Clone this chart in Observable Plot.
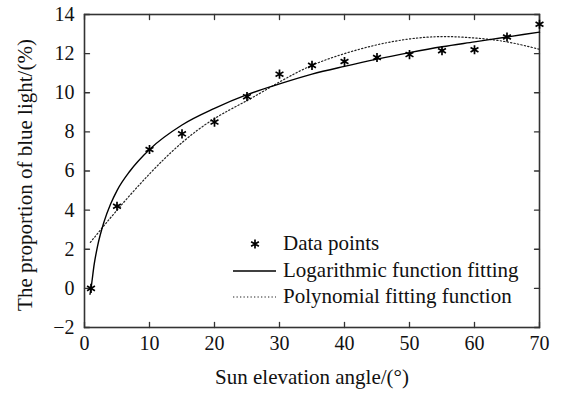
<!DOCTYPE html>
<html><head><meta charset="utf-8">
<script src="https://cdn.jsdelivr.net/npm/d3@7"></script>
<script src="https://cdn.jsdelivr.net/npm/@observablehq/plot@0.6"></script>
<style>
body{margin:0;background:#fff}
#wrap{position:relative;width:565px;height:398px;font-family:"Liberation Serif","Times New Roman",serif;color:#111}
.leg{position:absolute;left:230px;font-size:21px;line-height:21px;white-space:nowrap}
.leg svg{position:absolute;left:0;top:0;overflow:visible}
.leg span{position:absolute;left:53px;top:-11px}
</style>
</head><body><div id="wrap"></div>
<script>
// Measured data points
const angles = [1, 5, 10, 15, 20, 25, 30, 35, 40, 45, 50, 55, 60, 65, 70];
const proportions = [0, 4.2, 7.1, 7.9, 8.5, 9.8, 10.95, 11.4, 11.6, 11.8, 11.95, 12.15, 12.2, 12.85, 13.5];
// Logarithmic fitting curve
const logX = [0.85, 1, 1.5, 2, 3, 4, 5, 7, 10, 15, 20, 25, 30, 35, 40, 45, 50, 55, 60, 65, 70];
const logY = [-0.3, 0, 1.25, 2.15, 3.4, 4.3, 5.0, 6.0, 7.1, 8.35, 9.2, 9.9, 10.45, 10.95, 11.35, 11.72, 12.05, 12.35, 12.6, 12.85, 13.1];
// Polynomial fitting curve
const polyX = [0.9, 5, 10, 15, 20, 25, 30, 35, 40, 45, 50, 55, 60, 65, 70];
const polyY = [2.35, 4.0, 5.85, 7.45, 8.68, 9.6, 10.55, 11.4, 12.0, 12.45, 12.75, 12.87, 12.8, 12.6, 12.22];
// Axis ticks and texts
const xTicks = [0, 10, 20, 30, 40, 50, 60, 70];
const yTicks = [-2, 0, 2, 4, 6, 8, 10, 12, 14];
const xLabel = "Sun elevation angle/(°)";
const yLabel = "The proportion of blue light/(%)";
const legendLabels = ["Data points", "Logarithmic function fitting", "Polynomial fitting function"];

const logData = logX.map((x, i) => ({x, y: logY[i]}));
const polyData = polyX.map((x, i) => ({x, y: polyY[i]}));
const pts = angles.map((x, i) => ({x, y: proportions[i]}));

const tickShape = {draw(ctx, l) { ctx.moveTo(0, 0); ctx.lineTo(0, -l); }};
const FONT = "Liberation Serif, Times New Roman, serif";

const chart = Plot.plot({
  width: 565, height: 398,
  marginLeft: 84, marginRight: 26, marginTop: 14, marginBottom: 71,
  style: {fontFamily: FONT, fontSize: "20px", color: "#111", background: "#fff"},
  x: {domain: [0, 70], ticks: xTicks},
  y: {domain: [-2, 14], ticks: yTicks},
  marks: [
    Plot.axisX(xTicks, {anchor: "bottom", tickSize: 0, tickPadding: 8, label: null, fontSize: 20}),
    Plot.axisY(yTicks, {anchor: "left", tickSize: 0, tickPadding: 10, label: null, fontSize: 20, tickFormat: d => d < 0 ? "\u2212" + (-d) : String(d)}),
    Plot.vector(xTicks, {x: d => d, frameAnchor: "bottom", length: 5, rotate: 0, anchor: "start", shape: tickShape, stroke: "#333", strokeWidth: 1.3}),
    Plot.vector(xTicks, {x: d => d, frameAnchor: "top", length: 5, rotate: 180, anchor: "start", shape: tickShape, stroke: "#333", strokeWidth: 1.3}),
    Plot.vector(yTicks, {y: d => d, frameAnchor: "left", length: 5, rotate: 90, anchor: "start", shape: tickShape, stroke: "#333", strokeWidth: 1.3}),
    Plot.vector(yTicks, {y: d => d, frameAnchor: "right", length: 5, rotate: -90, anchor: "start", shape: tickShape, stroke: "#333", strokeWidth: 1.3}),
    Plot.frame({stroke: "#333", strokeWidth: 1.6}),
    Plot.line(polyData, {x: "x", y: "y", curve: "natural", stroke: "#222", strokeWidth: 1.2, strokeDasharray: "1.3,2.2"}),
    Plot.line(logData, {x: "x", y: "y", curve: "monotone-x", stroke: "#000", strokeWidth: 1.4}),
    Plot.dot(pts, {x: "x", y: "y", symbol: "asterisk", r: 4.3, stroke: "#000", strokeWidth: 1.7}),
    Plot.text([xLabel], {frameAnchor: "bottom", dy: 56, fontSize: 21, fill: "#111", textAnchor: "middle"}),
    Plot.text([yLabel], {frameAnchor: "left", dx: -59, dy: 4, rotate: -90, fontSize: 21, fill: "#111", textAnchor: "middle"})
  ]
});
const wrap = document.getElementById("wrap");
wrap.appendChild(chart);

// Legend overlay
const legTops = [244, 271, 297];
const samples = [
  '<svg width="46" height="2"><path d="M25,-4.5V4.5M21.1,-2.25L28.9,2.25M21.1,2.25L28.9,-2.25" stroke="#000" stroke-width="1.7"/></svg>',
  '<svg width="46" height="2"><line x1="3" x2="46" y1="0" y2="0" stroke="#000" stroke-width="1.4"/></svg>',
  '<svg width="46" height="2"><line x1="3" x2="46" y1="0" y2="0" stroke="#222" stroke-width="1.2" stroke-dasharray="1.3,2.2"/></svg>'
];
legendLabels.forEach((t, i) => {
  const d = document.createElement("div");
  d.className = "leg";
  d.style.top = legTops[i] + "px";
  d.innerHTML = samples[i] + "<span></span>";
  d.querySelector("span").textContent = t;
  wrap.appendChild(d);
});
</script>
</body></html>
